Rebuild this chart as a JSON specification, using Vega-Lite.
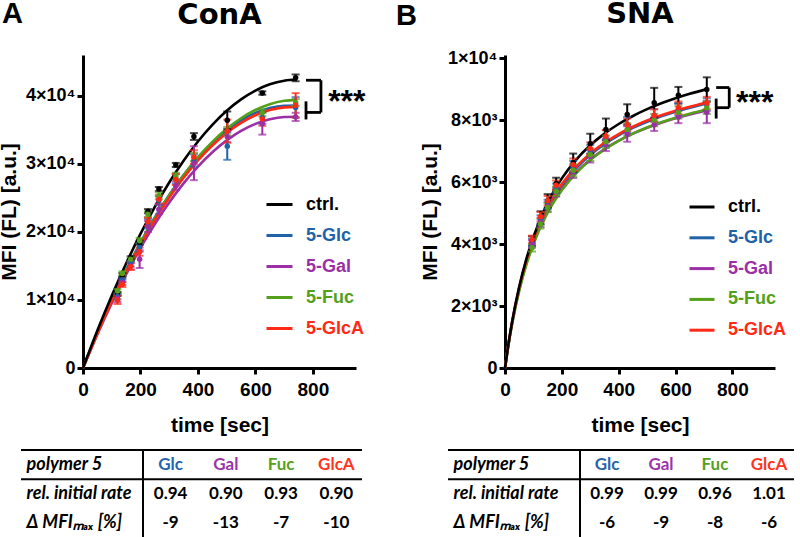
{
"$schema": "https://vega.github.io/schema/vega-lite/v6.json",
"autosize": {"type": "pad"},
"padding": {"left": -2, "top": 0, "right": 0, "bottom": 0},
"background": "white",
"config": {
  "view": {"stroke": null},
  "font": "Liberation Sans",
  "axis": {"domainColor": "black", "domainWidth": 3, "tickColor": "black", "tickWidth": 3, "tickSize": 6, "labelColor": "black", "labelFontWeight": "bold", "titleColor": "black", "titleFontWeight": "bold", "grid": false, "labelFont": "Liberation Sans", "titleFont": "Liberation Sans"},
  "title": {"font": "Liberation Sans", "fontWeight": "bold", "fontSize": 29, "color": "black"}
},
"datasets": {
  "curvesA": [
    {"s":"ctrl.","t":0,"v":0},{"s":"ctrl.","t":50,"v":5500},{"s":"ctrl.","t":100,"v":10616},{"s":"ctrl.","t":150,"v":15351},{"s":"ctrl.","t":200,"v":19704},{"s":"ctrl.","t":250,"v":23675},{"s":"ctrl.","t":300,"v":27264},{"s":"ctrl.","t":350,"v":30471},{"s":"ctrl.","t":400,"v":33296},{"s":"ctrl.","t":450,"v":35739},{"s":"ctrl.","t":500,"v":37800},{"s":"ctrl.","t":550,"v":39479},{"s":"ctrl.","t":600,"v":40776},{"s":"ctrl.","t":650,"v":41691},{"s":"ctrl.","t":700,"v":42224},{"s":"ctrl.","t":745,"v":42400},
    {"s":"5-Glc","t":0,"v":0},{"s":"5-Glc","t":50,"v":5164},{"s":"5-Glc","t":100,"v":9958},{"s":"5-Glc","t":150,"v":14380},{"s":"5-Glc","t":200,"v":18432},{"s":"5-Glc","t":250,"v":22112},{"s":"5-Glc","t":300,"v":25422},{"s":"5-Glc","t":350,"v":28360},{"s":"5-Glc","t":400,"v":30928},{"s":"5-Glc","t":450,"v":33124},{"s":"5-Glc","t":500,"v":34950},{"s":"5-Glc","t":550,"v":36404},{"s":"5-Glc","t":600,"v":37488},{"s":"5-Glc","t":650,"v":38200},{"s":"5-Glc","t":700,"v":38542},{"s":"5-Glc","t":745,"v":38578},
    {"s":"5-Gal","t":0,"v":0},{"s":"5-Gal","t":50,"v":4942},{"s":"5-Gal","t":100,"v":9530},{"s":"5-Gal","t":150,"v":13762},{"s":"5-Gal","t":200,"v":17640},{"s":"5-Gal","t":250,"v":21162},{"s":"5-Gal","t":300,"v":24329},{"s":"5-Gal","t":350,"v":27141},{"s":"5-Gal","t":400,"v":29598},{"s":"5-Gal","t":450,"v":31700},{"s":"5-Gal","t":500,"v":33447},{"s":"5-Gal","t":550,"v":34839},{"s":"5-Gal","t":600,"v":35876},{"s":"5-Gal","t":650,"v":36558},{"s":"5-Gal","t":700,"v":36885},{"s":"5-Gal","t":745,"v":36915},
    {"s":"5-Fuc","t":0,"v":0},{"s":"5-Fuc","t":50,"v":5112},{"s":"5-Fuc","t":100,"v":9870},{"s":"5-Fuc","t":150,"v":14272},{"s":"5-Fuc","t":200,"v":18320},{"s":"5-Fuc","t":250,"v":22012},{"s":"5-Fuc","t":300,"v":25349},{"s":"5-Fuc","t":350,"v":28331},{"s":"5-Fuc","t":400,"v":30958},{"s":"5-Fuc","t":450,"v":33230},{"s":"5-Fuc","t":500,"v":35147},{"s":"5-Fuc","t":550,"v":36709},{"s":"5-Fuc","t":600,"v":37916},{"s":"5-Fuc","t":650,"v":38768},{"s":"5-Fuc","t":700,"v":39265},{"s":"5-Fuc","t":745,"v":39409},
    {"s":"5-GlcA","t":0,"v":0},{"s":"5-GlcA","t":50,"v":5070},{"s":"5-GlcA","t":100,"v":9782},{"s":"5-GlcA","t":150,"v":14134},{"s":"5-GlcA","t":200,"v":18127},{"s":"5-GlcA","t":250,"v":21761},{"s":"5-GlcA","t":300,"v":25036},{"s":"5-GlcA","t":350,"v":27952},{"s":"5-GlcA","t":400,"v":30509},{"s":"5-GlcA","t":450,"v":32706},{"s":"5-GlcA","t":500,"v":34545},{"s":"5-GlcA","t":550,"v":36024},{"s":"5-GlcA","t":600,"v":37145},{"s":"5-GlcA","t":650,"v":37906},{"s":"5-GlcA","t":700,"v":38308},{"s":"5-GlcA","t":745,"v":38380}
  ],
  "pointsA": [
    {"s":"ctrl.","t":120,"v":10890,"e":300},{"s":"ctrl.","t":137,"v":13700,"e":250},{"s":"ctrl.","t":166,"v":16160,"e":250},{"s":"ctrl.","t":197,"v":18420,"e":300},{"s":"ctrl.","t":226,"v":23050,"e":300},{"s":"ctrl.","t":264,"v":26300,"e":300},{"s":"ctrl.","t":323,"v":29840,"e":300},{"s":"ctrl.","t":386,"v":34020,"e":500},{"s":"ctrl.","t":502,"v":36400,"e":1300},{"s":"ctrl.","t":624,"v":40410,"e":250},{"s":"ctrl.","t":740,"v":42640,"e":500},
    {"s":"5-Glc","t":120,"v":10500,"e":400},{"s":"5-Glc","t":137,"v":12900,"e":300},{"s":"5-Glc","t":166,"v":15300,"e":400},{"s":"5-Glc","t":197,"v":17700,"e":600},{"s":"5-Glc","t":226,"v":21200,"e":700},{"s":"5-Glc","t":264,"v":24600,"e":600},{"s":"5-Glc","t":323,"v":27800,"e":700},{"s":"5-Glc","t":386,"v":30500,"e":900},{"s":"5-Glc","t":502,"v":32600,"e":2000},{"s":"5-Glc","t":624,"v":36800,"e":900},{"s":"5-Glc","t":740,"v":38300,"e":1500},
    {"s":"5-Gal","t":120,"v":10200,"e":500},{"s":"5-Gal","t":137,"v":12600,"e":400},{"s":"5-Gal","t":166,"v":15000,"e":500},{"s":"5-Gal","t":197,"v":16000,"e":1300},{"s":"5-Gal","t":226,"v":20800,"e":800},{"s":"5-Gal","t":264,"v":23300,"e":700},{"s":"5-Gal","t":323,"v":26800,"e":600},{"s":"5-Gal","t":386,"v":30100,"e":2500},{"s":"5-Gal","t":502,"v":34000,"e":800},{"s":"5-Gal","t":624,"v":35900,"e":1600},{"s":"5-Gal","t":740,"v":36900,"e":600},
    {"s":"5-Fuc","t":120,"v":11300,"e":300},{"s":"5-Fuc","t":137,"v":13900,"e":300},{"s":"5-Fuc","t":166,"v":16000,"e":300},{"s":"5-Fuc","t":197,"v":18700,"e":400},{"s":"5-Fuc","t":226,"v":22600,"e":400},{"s":"5-Fuc","t":264,"v":25300,"e":500},{"s":"5-Fuc","t":323,"v":28200,"e":500},{"s":"5-Fuc","t":386,"v":31000,"e":600},{"s":"5-Fuc","t":502,"v":34800,"e":600},{"s":"5-Fuc","t":624,"v":37500,"e":500},{"s":"5-Fuc","t":740,"v":39000,"e":500},
    {"s":"5-GlcA","t":120,"v":10000,"e":600},{"s":"5-GlcA","t":137,"v":12300,"e":400},{"s":"5-GlcA","t":166,"v":14900,"e":500},{"s":"5-GlcA","t":197,"v":17100,"e":600},{"s":"5-GlcA","t":226,"v":21500,"e":600},{"s":"5-GlcA","t":264,"v":24800,"e":600},{"s":"5-GlcA","t":323,"v":27700,"e":800},{"s":"5-GlcA","t":386,"v":31000,"e":1000},{"s":"5-GlcA","t":502,"v":34800,"e":1700},{"s":"5-GlcA","t":624,"v":36600,"e":1000},{"s":"5-GlcA","t":740,"v":38600,"e":1800}
  ],
  "curvesB": [
    {"s":"ctrl.","t":0,"v":0},{"s":"ctrl.","t":10,"v":647},{"s":"ctrl.","t":25,"v":1486},{"s":"ctrl.","t":50,"v":2619},{"s":"ctrl.","t":75,"v":3512},{"s":"ctrl.","t":100,"v":4233},{"s":"ctrl.","t":150,"v":5328},{"s":"ctrl.","t":200,"v":6119},{"s":"ctrl.","t":250,"v":6718},{"s":"ctrl.","t":300,"v":7186},{"s":"ctrl.","t":350,"v":7563},{"s":"ctrl.","t":400,"v":7873},{"s":"ctrl.","t":450,"v":8132},{"s":"ctrl.","t":500,"v":8352},{"s":"ctrl.","t":550,"v":8541},{"s":"ctrl.","t":600,"v":8705},{"s":"ctrl.","t":650,"v":8848},{"s":"ctrl.","t":710,"v":8999},
    {"s":"5-Glc","t":0,"v":0},{"s":"5-Glc","t":10,"v":638},{"s":"5-Glc","t":25,"v":1460},{"s":"5-Glc","t":50,"v":2560},{"s":"5-Glc","t":75,"v":3419},{"s":"5-Glc","t":100,"v":4107},{"s":"5-Glc","t":150,"v":5142},{"s":"5-Glc","t":200,"v":5884},{"s":"5-Glc","t":250,"v":6442},{"s":"5-Glc","t":300,"v":6876},{"s":"5-Glc","t":350,"v":7224},{"s":"5-Glc","t":400,"v":7509},{"s":"5-Glc","t":450,"v":7747},{"s":"5-Glc","t":500,"v":7948},{"s":"5-Glc","t":550,"v":8121},{"s":"5-Glc","t":600,"v":8270},{"s":"5-Glc","t":650,"v":8402},{"s":"5-Glc","t":710,"v":8539},
    {"s":"5-Gal","t":0,"v":0},{"s":"5-Gal","t":10,"v":637},{"s":"5-Gal","t":25,"v":1454},{"s":"5-Gal","t":50,"v":2540},{"s":"5-Gal","t":75,"v":3382},{"s":"5-Gal","t":100,"v":4054},{"s":"5-Gal","t":150,"v":5060},{"s":"5-Gal","t":200,"v":5777},{"s":"5-Gal","t":250,"v":6313},{"s":"5-Gal","t":300,"v":6730},{"s":"5-Gal","t":350,"v":7063},{"s":"5-Gal","t":400,"v":7335},{"s":"5-Gal","t":450,"v":7561},{"s":"5-Gal","t":500,"v":7753},{"s":"5-Gal","t":550,"v":7917},{"s":"5-Gal","t":600,"v":8059},{"s":"5-Gal","t":650,"v":8183},{"s":"5-Gal","t":710,"v":8313},
    {"s":"5-Fuc","t":0,"v":0},{"s":"5-Fuc","t":10,"v":619},{"s":"5-Fuc","t":25,"v":1418},{"s":"5-Fuc","t":50,"v":2488},{"s":"5-Fuc","t":75,"v":3325},{"s":"5-Fuc","t":100,"v":3997},{"s":"5-Fuc","t":150,"v":5010},{"s":"5-Fuc","t":200,"v":5736},{"s":"5-Fuc","t":250,"v":6283},{"s":"5-Fuc","t":300,"v":6709},{"s":"5-Fuc","t":350,"v":7051},{"s":"5-Fuc","t":400,"v":7331},{"s":"5-Fuc","t":450,"v":7564},{"s":"5-Fuc","t":500,"v":7762},{"s":"5-Fuc","t":550,"v":7932},{"s":"5-Fuc","t":600,"v":8079},{"s":"5-Fuc","t":650,"v":8208},{"s":"5-Fuc","t":710,"v":8343},
    {"s":"5-GlcA","t":0,"v":0},{"s":"5-GlcA","t":10,"v":650},{"s":"5-GlcA","t":25,"v":1485},{"s":"5-GlcA","t":50,"v":2599},{"s":"5-GlcA","t":75,"v":3464},{"s":"5-GlcA","t":100,"v":4156},{"s":"5-GlcA","t":150,"v":5194},{"s":"5-GlcA","t":200,"v":5935},{"s":"5-GlcA","t":250,"v":6490},{"s":"5-GlcA","t":300,"v":6922},{"s":"5-GlcA","t":350,"v":7268},{"s":"5-GlcA","t":400,"v":7550},{"s":"5-GlcA","t":450,"v":7786},{"s":"5-GlcA","t":500,"v":7985},{"s":"5-GlcA","t":550,"v":8156},{"s":"5-GlcA","t":600,"v":8304},{"s":"5-GlcA","t":650,"v":8433},{"s":"5-GlcA","t":710,"v":8569}
  ],
  "pointsB": [
    {"s":"ctrl.","t":95,"v":4100,"e":150},{"s":"ctrl.","t":125,"v":4850,"e":210},{"s":"ctrl.","t":150,"v":5390,"e":220},{"s":"ctrl.","t":180,"v":5950,"e":190},{"s":"ctrl.","t":240,"v":6620,"e":300},{"s":"ctrl.","t":300,"v":7240,"e":320},{"s":"ctrl.","t":355,"v":7700,"e":350},{"s":"ctrl.","t":430,"v":8180,"e":330},{"s":"ctrl.","t":525,"v":8560,"e":480},{"s":"ctrl.","t":610,"v":8800,"e":270},{"s":"ctrl.","t":710,"v":8990,"e":390},
    {"s":"5-Glc","t":95,"v":4050,"e":120},{"s":"5-Glc","t":125,"v":4780,"e":150},{"s":"5-Glc","t":150,"v":5280,"e":150},{"s":"5-Glc","t":180,"v":5800,"e":150},{"s":"5-Glc","t":240,"v":6480,"e":200},{"s":"5-Glc","t":300,"v":7000,"e":200},{"s":"5-Glc","t":355,"v":7420,"e":250},{"s":"5-Glc","t":430,"v":7850,"e":250},{"s":"5-Glc","t":525,"v":8150,"e":200},{"s":"5-Glc","t":610,"v":8350,"e":200},{"s":"5-Glc","t":710,"v":8500,"e":200},
    {"s":"5-Gal","t":95,"v":4000,"e":120},{"s":"5-Gal","t":125,"v":4700,"e":150},{"s":"5-Gal","t":150,"v":5200,"e":150},{"s":"5-Gal","t":180,"v":5680,"e":150},{"s":"5-Gal","t":240,"v":6330,"e":200},{"s":"5-Gal","t":300,"v":6830,"e":200},{"s":"5-Gal","t":355,"v":7200,"e":200},{"s":"5-Gal","t":430,"v":7550,"e":250},{"s":"5-Gal","t":525,"v":7850,"e":200},{"s":"5-Gal","t":610,"v":8100,"e":200},{"s":"5-Gal","t":710,"v":8250,"e":350},
    {"s":"5-Fuc","t":95,"v":3880,"e":120},{"s":"5-Fuc","t":125,"v":4650,"e":150},{"s":"5-Fuc","t":150,"v":5180,"e":150},{"s":"5-Fuc","t":180,"v":5700,"e":150},{"s":"5-Fuc","t":240,"v":6380,"e":200},{"s":"5-Fuc","t":300,"v":6880,"e":200},{"s":"5-Fuc","t":355,"v":7300,"e":200},{"s":"5-Fuc","t":430,"v":7700,"e":200},{"s":"5-Fuc","t":525,"v":8000,"e":200},{"s":"5-Fuc","t":610,"v":8250,"e":200},{"s":"5-Fuc","t":710,"v":8400,"e":200},
    {"s":"5-GlcA","t":95,"v":4150,"e":120},{"s":"5-GlcA","t":125,"v":4880,"e":150},{"s":"5-GlcA","t":150,"v":5400,"e":150},{"s":"5-GlcA","t":180,"v":5900,"e":150},{"s":"5-GlcA","t":240,"v":6560,"e":200},{"s":"5-GlcA","t":300,"v":7080,"e":200},{"s":"5-GlcA","t":355,"v":7480,"e":200},{"s":"5-GlcA","t":430,"v":7850,"e":200},{"s":"5-GlcA","t":525,"v":8150,"e":200},{"s":"5-GlcA","t":610,"v":8400,"e":200},{"s":"5-GlcA","t":710,"v":8550,"e":200}
  ],
  "bracketA": [
    {"t":776,"t2":828,"v":42290,"v2":42290},
    {"t":828,"t2":828,"v":42290,"v2":37560},
    {"t":776,"t2":828,"v":37560,"v2":37560},
    {"t":776,"t2":776,"v":39190,"v2":36530}
  ],
  "bracketB": [
    {"t":743,"t2":789,"v":9050,"v2":9050},
    {"t":789,"t2":789,"v":9050,"v2":8400},
    {"t":743,"t2":789,"v":8400,"v2":8400},
    {"t":743,"t2":743,"v":8694,"v2":8049}
  ],
  "tableA": [
    {"row":"polymer 5","col":"Glc","val":"Glc"},{"row":"polymer 5","col":"Gal","val":"Gal"},{"row":"polymer 5","col":"Fuc","val":"Fuc"},{"row":"polymer 5","col":"GlcA","val":"GlcA"},
    {"row":"rel. initial rate","col":"Glc","val":"0.94"},{"row":"rel. initial rate","col":"Gal","val":"0.90"},{"row":"rel. initial rate","col":"Fuc","val":"0.93"},{"row":"rel. initial rate","col":"GlcA","val":"0.90"},
    {"row":"Δ MFIₘₐₓ [%]","col":"Glc","val":"-9"},{"row":"Δ MFIₘₐₓ [%]","col":"Gal","val":"-13"},{"row":"Δ MFIₘₐₓ [%]","col":"Fuc","val":"-7"},{"row":"Δ MFIₘₐₓ [%]","col":"GlcA","val":"-10"}
  ],
  "tableB": [
    {"row":"polymer 5","col":"Glc","val":"Glc"},{"row":"polymer 5","col":"Gal","val":"Gal"},{"row":"polymer 5","col":"Fuc","val":"Fuc"},{"row":"polymer 5","col":"GlcA","val":"GlcA"},
    {"row":"rel. initial rate","col":"Glc","val":"0.99"},{"row":"rel. initial rate","col":"Gal","val":"0.99"},{"row":"rel. initial rate","col":"Fuc","val":"0.96"},{"row":"rel. initial rate","col":"GlcA","val":"1.01"},
    {"row":"Δ MFIₘₐₓ [%]","col":"Glc","val":"-6"},{"row":"Δ MFIₘₐₓ [%]","col":"Gal","val":"-9"},{"row":"Δ MFIₘₐₓ [%]","col":"Fuc","val":"-8"},{"row":"Δ MFIₘₐₓ [%]","col":"GlcA","val":"-6"}
  ]
},
"spacing": 0,
"resolve": {"scale": {"color": "independent"}, "legend": {"color": "independent"}},
"vconcat": [
  {
    "spacing": 0,
    "bounds": "flush",
    "resolve": {"scale": {"color": "independent"}, "legend": {"color": "independent"}},
    "hconcat": [
      {"width": 84, "height": 394, "title": {"text": "A", "anchor": "start", "dx": 3, "offset": 3, "baseline": "alphabetic"}, "data": {"values": []}, "mark": "point"},
      {
        "width": 273, "height": 313,
        "title": {"text": "ConA", "baseline": "alphabetic", "offset": 2, "font": "DejaVu Sans"},
        "encoding": {
          "x": {"field": "t", "type": "quantitative", "scale": {"domain": [0, 950], "nice": false}, "axis": {"values": [0, 200, 400, 600, 800], "labelFontSize": 19, "labelPadding": 6, "labelFlush": false, "title": "time [sec]", "titleFontSize": 21, "titlePadding": 15}},
          "y": {"field": "v", "type": "quantitative", "scale": {"domain": [0, 46000], "nice": false}, "axis": {"values": [0, 10000, 20000, 30000, 40000], "labelExpr": "datum.value == 0 ? '0' : (datum.value / 10000) + '×10⁴'", "labelFontSize": 18, "labelPadding": 2, "labelFlush": false, "title": "MFI (FL) [a.u.]", "titleFontSize": 21, "titlePadding": 6}}
        },
        "layer": [
          {"data": {"name": "curvesA"}, "transform": [{"filter": "datum.s !== 'ctrl.'"}], "mark": {"type": "line", "strokeWidth": 2.6, "interpolate": "monotone"},
           "encoding": {"color": {"field": "s", "type": "nominal", "scale": {"domain": ["ctrl.", "5-Glc", "5-Gal", "5-Fuc", "5-GlcA"], "range": ["#000000", "#1f62a8", "#9c2fa6", "#54a01a", "#ff2a16"]},
             "legend": {"title": null, "orient": "none", "legendX": 182, "legendY": 135, "symbolType": "stroke", "symbolSize": 676, "symbolStrokeWidth": 3, "labelFontSize": 18, "labelFontWeight": "bold", "labelFont": "Liberation Sans", "labelOffset": 12, "rowPadding": 7, "padding": 0, "labelLimit": 0,
               "encode": {"labels": {"update": {"fill": {"signal": "datum.value === 'ctrl.' ? '#000000' : datum.value === '5-Glc' ? '#1f62a8' : datum.value === '5-Gal' ? '#9c2fa6' : datum.value === '5-Fuc' ? '#54a01a' : '#ff2a16'"}}}}}}}},
          {"data": {"name": "curvesA"}, "transform": [{"filter": "datum.s === 'ctrl.'"}], "mark": {"type": "line", "strokeWidth": 2.6, "interpolate": "monotone"},
           "encoding": {"color": {"field": "s", "type": "nominal"}}},
          {"data": {"name": "pointsA"}, "mark": {"type": "errorbar", "ticks": {"size": 8, "thickness": 2}, "rule": {"strokeWidth": 2}},
           "encoding": {"yError": {"field": "e"}, "color": {"field": "s", "type": "nominal"}}},
          {"data": {"name": "pointsA"}, "mark": {"type": "point", "shape": "circle", "filled": true, "size": 30, "opacity": 1},
           "encoding": {"color": {"field": "s", "type": "nominal"}}},
          {"data": {"name": "bracketA"}, "mark": {"type": "rule", "color": "black", "strokeWidth": 2.8},
           "encoding": {"x2": {"field": "t2"}, "y2": {"field": "v2"}}},
          {"data": {"values": [{"t": 853, "v": 37560, "txt": "***"}]}, "mark": {"type": "text", "align": "left", "baseline": "alphabetic", "fontSize": 32, "fontWeight": "bold", "color": "black"},
           "encoding": {"text": {"field": "txt"}}}
        ]
      },
      {"width": 149, "height": 394, "title": {"text": "B", "anchor": "start", "dx": 40, "offset": 1, "baseline": "alphabetic"}, "data": {"values": []}, "mark": "point"},
      {
        "width": 270, "height": 313,
        "title": {"text": "SNA", "baseline": "alphabetic", "offset": -3, "font": "DejaVu Sans"},
        "encoding": {
          "x": {"field": "t", "type": "quantitative", "scale": {"domain": [0, 950], "nice": false}, "axis": {"values": [0, 200, 400, 600, 800], "labelFontSize": 19, "labelPadding": 6, "labelFlush": false, "title": "time [sec]", "titleFontSize": 21, "titlePadding": 15}},
          "y": {"field": "v", "type": "quantitative", "scale": {"domain": [0, 10100], "nice": false}, "axis": {"values": [0, 2000, 4000, 6000, 8000, 10000], "labelExpr": "datum.value == 0 ? '0' : datum.value == 10000 ? '1×10⁴' : (datum.value / 1000) + '×10³'", "labelFontSize": 18, "labelPadding": 2, "labelFlush": false, "title": "MFI (FL) [a.u.]", "titleFontSize": 21, "titlePadding": 7}}
        },
        "layer": [
          {"data": {"name": "curvesB"}, "transform": [{"filter": "datum.s !== 'ctrl.'"}], "mark": {"type": "line", "strokeWidth": 2.6, "interpolate": "monotone"},
           "encoding": {"color": {"field": "s", "type": "nominal", "scale": {"domain": ["ctrl.", "5-Glc", "5-Gal", "5-Fuc", "5-GlcA"], "range": ["#000000", "#1f62a8", "#9c2fa6", "#54a01a", "#ff2a16"]},
             "legend": {"title": null, "orient": "none", "legendX": 183, "legendY": 138, "symbolType": "stroke", "symbolSize": 625, "symbolStrokeWidth": 3, "labelFontSize": 18, "labelFontWeight": "bold", "labelFont": "Liberation Sans", "labelOffset": 12, "rowPadding": 7.8, "padding": 0, "labelLimit": 0,
               "encode": {"labels": {"update": {"fill": {"signal": "datum.value === 'ctrl.' ? '#000000' : datum.value === '5-Glc' ? '#1f62a8' : datum.value === '5-Gal' ? '#9c2fa6' : datum.value === '5-Fuc' ? '#54a01a' : '#ff2a16'"}}}}}}}},
          {"data": {"name": "curvesB"}, "transform": [{"filter": "datum.s === 'ctrl.'"}], "mark": {"type": "line", "strokeWidth": 2.6, "interpolate": "monotone"},
           "encoding": {"color": {"field": "s", "type": "nominal"}}},
          {"data": {"name": "pointsB"}, "mark": {"type": "errorbar", "ticks": {"size": 8, "thickness": 2}, "rule": {"strokeWidth": 2}},
           "encoding": {"yError": {"field": "e"}, "color": {"field": "s", "type": "nominal"}}},
          {"data": {"name": "pointsB"}, "mark": {"type": "point", "shape": "circle", "filled": true, "size": 30, "opacity": 1},
           "encoding": {"color": {"field": "s", "type": "nominal"}}},
          {"data": {"name": "bracketB"}, "mark": {"type": "rule", "color": "black", "strokeWidth": 2.8},
           "encoding": {"x2": {"field": "t2"}, "y2": {"field": "v2"}}},
          {"data": {"values": [{"t": 813, "v": 8240, "txt": "***"}]}, "mark": {"type": "text", "align": "left", "baseline": "alphabetic", "fontSize": 32, "fontWeight": "bold", "color": "black"},
           "encoding": {"text": {"field": "txt"}}}
        ]
      }
    ]
  },
  {
    "spacing": 0,
    "bounds": "flush",
    "resolve": {"scale": {"color": "independent"}, "legend": {"color": "independent"}},
    "hconcat": [
      {"width": 22, "height": 88, "data": {"values": []}, "mark": "point"},
      {
        "width": 341, "height": 88,
        "layer": [
          {"data": {"name": "tableA"}, "mark": {"type": "text", "font": "Lato", "fontSize": 17, "fontWeight": "bold"},
           "encoding": {
             "x": {"field": "col", "type": "nominal", "scale": {"domain": ["Glc", "Gal", "Fuc", "GlcA"], "range": [122, 343], "paddingInner": 0, "paddingOuter": 0}, "axis": null},
             "y": {"field": "row", "type": "nominal", "scale": {"domain": ["polymer 5", "rel. initial rate", "Δ MFIₘₐₓ [%]"], "paddingInner": 0, "paddingOuter": 0},
                   "axis": {"title": null, "domain": false, "ticks": false, "tickSize": 0, "labelAlign": "left", "labelBaseline": "middle", "labelPadding": -5, "labelFont": "Lato", "labelFontSize": 18, "labelFontStyle": "italic", "labelFontWeight": "bold", "labelLimit": 0}},
             "text": {"field": "val"},
             "color": {"condition": {"test": "datum.row === 'polymer 5'", "field": "col", "type": "nominal", "scale": {"domain": ["Glc", "Gal", "Fuc", "GlcA"], "range": ["#2763ad", "#9b34a8", "#56a01e", "#ff3322"]}, "legend": null}, "value": "black"}
           }},
          {"data": {"values": [{"row": "polymer 5"}, {"row": "rel. initial rate"}]}, "mark": {"type": "rule", "color": "black", "strokeWidth": 2},
           "encoding": {"y": {"field": "row", "type": "nominal", "bandPosition": 0, "title": null}}},
          {"data": {"values": [{"row": "Δ MFIₘₐₓ [%]"}]}, "mark": {"type": "rule", "color": "black", "strokeWidth": 2},
           "encoding": {"y": {"field": "row", "type": "nominal", "bandPosition": 1, "title": null}}},
          {"data": {"values": [{"col": "Glc"}]}, "mark": {"type": "rule", "color": "black", "strokeWidth": 2},
           "encoding": {"x": {"field": "col", "type": "nominal", "bandPosition": 0}}}
        ]
      },
      {"width": 86, "height": 88, "data": {"values": []}, "mark": "point"},
      {
        "width": 346, "height": 88,
        "layer": [
          {"data": {"name": "tableB"}, "mark": {"type": "text", "font": "Lato", "fontSize": 17, "fontWeight": "bold"},
           "encoding": {
             "x": {"field": "col", "type": "nominal", "scale": {"domain": ["Glc", "Gal", "Fuc", "GlcA"], "range": [132, 348], "paddingInner": 0, "paddingOuter": 0}, "axis": null},
             "y": {"field": "row", "type": "nominal", "scale": {"domain": ["polymer 5", "rel. initial rate", "Δ MFIₘₐₓ [%]"], "paddingInner": 0, "paddingOuter": 0},
                   "axis": {"title": null, "domain": false, "ticks": false, "tickSize": 0, "labelAlign": "left", "labelBaseline": "middle", "labelPadding": -5, "labelFont": "Lato", "labelFontSize": 18, "labelFontStyle": "italic", "labelFontWeight": "bold", "labelLimit": 0}},
             "text": {"field": "val"},
             "color": {"condition": {"test": "datum.row === 'polymer 5'", "field": "col", "type": "nominal", "scale": {"domain": ["Glc", "Gal", "Fuc", "GlcA"], "range": ["#2763ad", "#9b34a8", "#56a01e", "#ff3322"]}, "legend": null}, "value": "black"}
           }},
          {"data": {"values": [{"row": "polymer 5"}, {"row": "rel. initial rate"}]}, "mark": {"type": "rule", "color": "black", "strokeWidth": 2},
           "encoding": {"y": {"field": "row", "type": "nominal", "bandPosition": 0, "title": null}}},
          {"data": {"values": [{"row": "Δ MFIₘₐₓ [%]"}]}, "mark": {"type": "rule", "color": "black", "strokeWidth": 2},
           "encoding": {"y": {"field": "row", "type": "nominal", "bandPosition": 1, "title": null}}},
          {"data": {"values": [{"col": "Glc"}]}, "mark": {"type": "rule", "color": "black", "strokeWidth": 2},
           "encoding": {"x": {"field": "col", "type": "nominal", "bandPosition": 0}}}
        ]
      }
    ]
  }
]
}
